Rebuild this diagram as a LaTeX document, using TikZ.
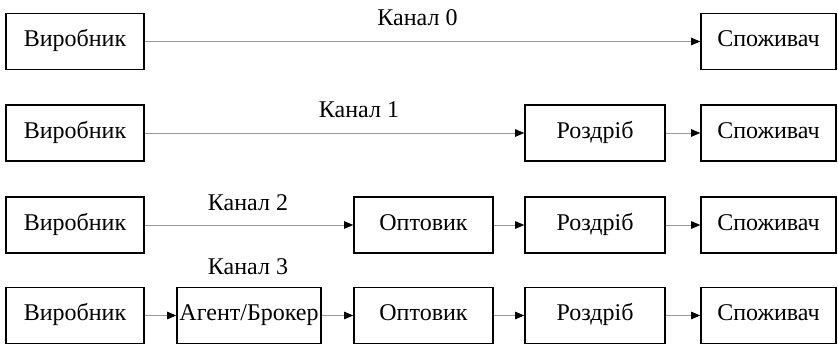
\documentclass[tikz,border=0pt]{standalone}
\usepackage{fontspec}
\setmainfont{Liberation Serif}
\usetikzlibrary{arrows.meta}
\begin{document}
\begin{tikzpicture}[x=1pt,y=-1pt,
  box/.style={draw=black,line width=1.6pt,rectangle,inner sep=0pt,minimum height=56pt,text height=15pt,text depth=4pt,font=\fontsize{24}{26}\selectfont},
  conn/.style={draw=black!40,line width=0.9pt,-{Triangle[length=9pt,width=7.5pt,fill=black,color=black]}},
  lbl/.style={font=\fontsize{24}{26}\selectfont,inner sep=0pt}]
\useasboundingbox (0,0) rectangle (838,344);
% columns
\def\xa{75}\def\xb{249}\def\xc{423.5}\def\xd{595}\def\xe{768.5}
% row 0
\node[box,minimum width=138pt] (p0) at (\xa,41.5) {Виробник};
\node[box,minimum width=135pt] (c0) at (\xe,41.5) {Споживач};
\draw[conn] (p0) -- (c0);
\node[lbl] (k0) at (417.5,18) {Канал 0};
% row 1
\node[box,minimum width=138pt] (p1) at (\xa,133) {Виробник};
\node[box,minimum width=140pt] (r1) at (\xd,133) {Роздріб};
\node[box,minimum width=135pt] (c1) at (\xe,133) {Споживач};
\draw[conn] (p1) -- (r1);
\draw[conn] (r1) -- (c1);
\node[lbl] (k1) at (359,110) {Канал 1};
% row 2
\node[box,minimum width=138pt] (p2) at (\xa,225) {Виробник};
\node[box,minimum width=139pt] (o2) at (\xc,225) {Оптовик};
\node[box,minimum width=140pt] (r2) at (\xd,225) {Роздріб};
\node[box,minimum width=135pt] (c2) at (\xe,225) {Споживач};
\draw[conn] (p2) -- (o2);
\draw[conn] (o2) -- (r2);
\draw[conn] (r2) -- (c2);
\node[lbl] (k2) at (248,203) {Канал 2};
% row 3
\node[box,minimum width=138pt] (p3) at (\xa,315.5) {Виробник};
\node[box,minimum width=144pt] (a3) at (\xb,315.5) {Агент/Брокер};
\node[box,minimum width=139pt] (o3) at (\xc,315.5) {Оптовик};
\node[box,minimum width=140pt] (r3) at (\xd,315.5) {Роздріб};
\node[box,minimum width=135pt] (c3) at (\xe,315.5) {Споживач};
\draw[conn] (p3) -- (a3);
\draw[conn] (a3) -- (o3);
\draw[conn] (o3) -- (r3);
\draw[conn] (r3) -- (c3);
\node[lbl] (k3) at (248,267) {Канал 3};
\end{tikzpicture}
\end{document}
